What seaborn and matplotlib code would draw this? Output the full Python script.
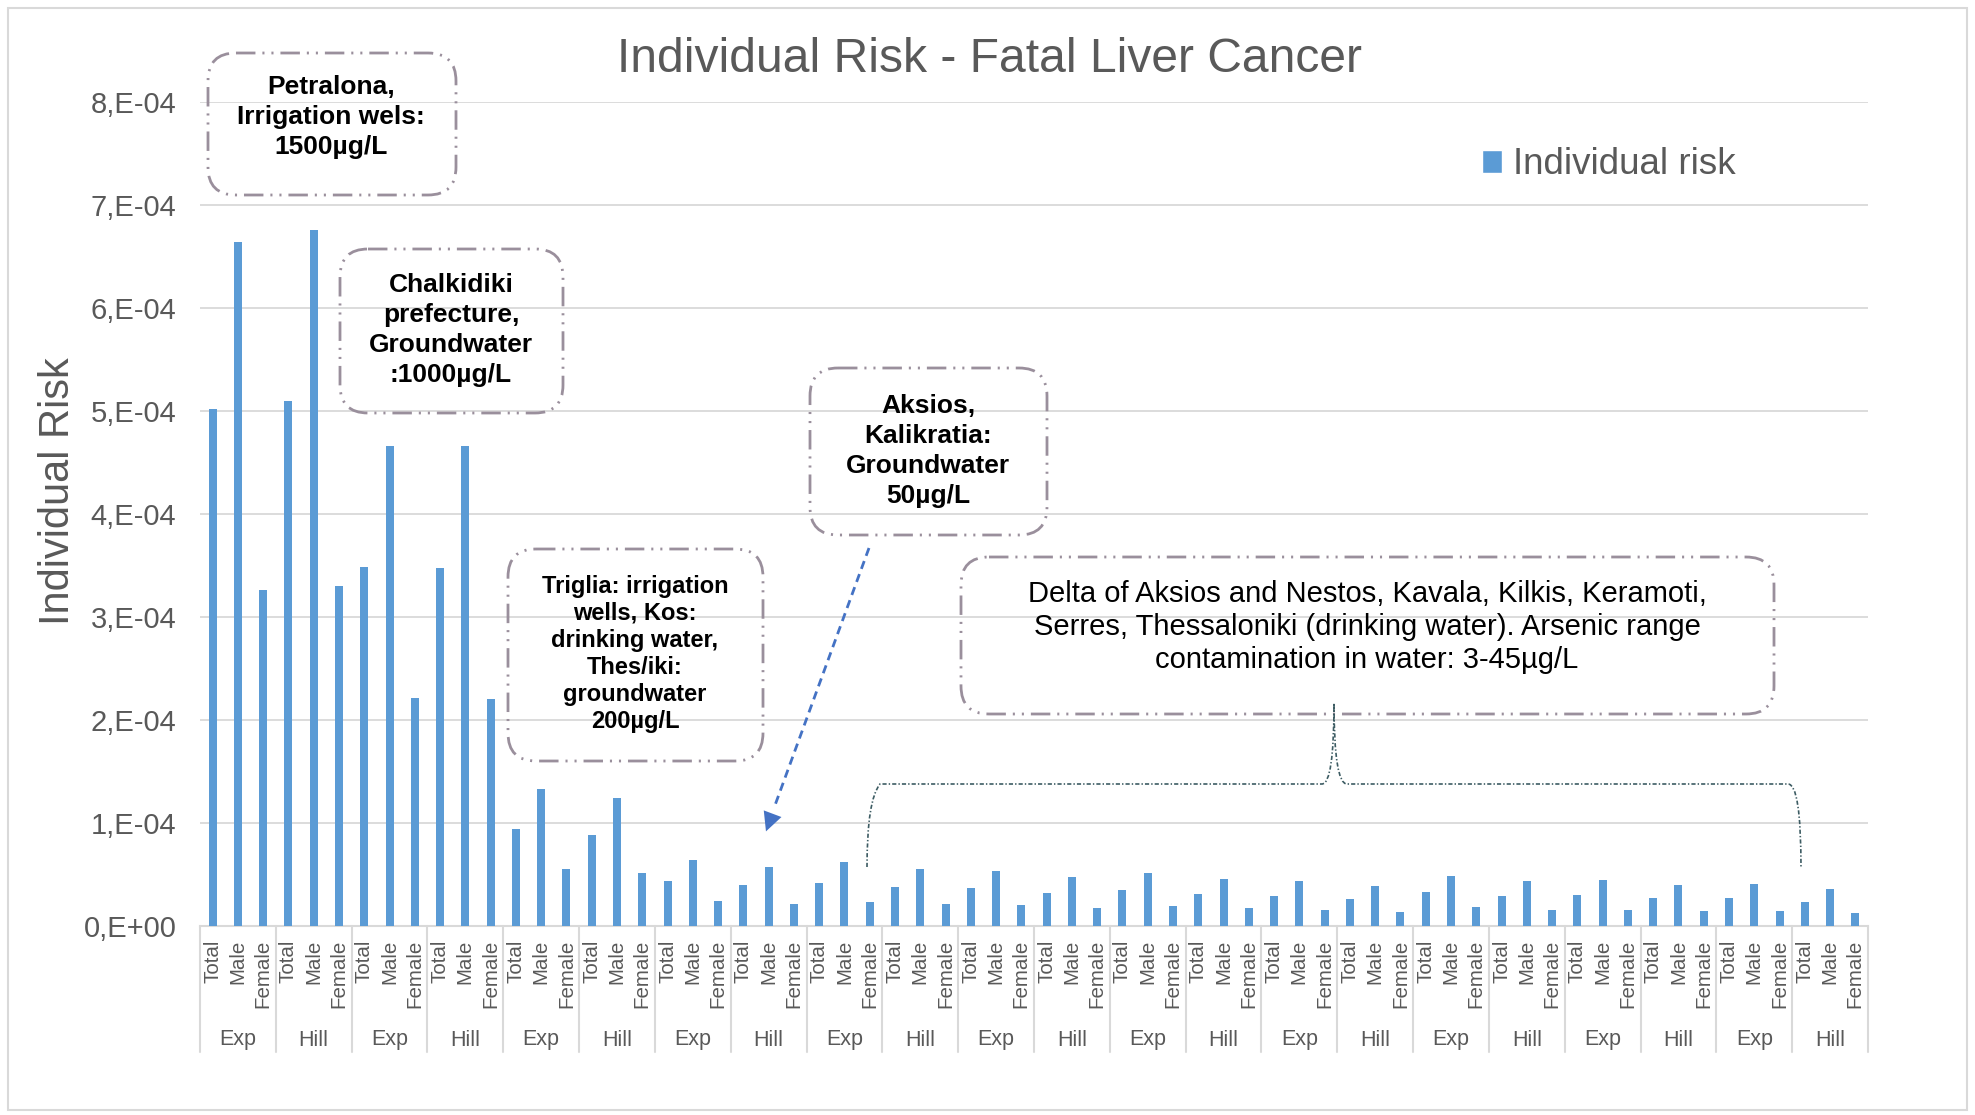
import numpy as np
import pandas as pd
import matplotlib
matplotlib.use("Agg")
import matplotlib.pyplot as plt
import seaborn as sns
from matplotlib.patches import FancyBboxPatch, Rectangle, Patch, FancyArrowPatch
from matplotlib.path import Path
from matplotlib.patches import PathPatch
from matplotlib.transforms import Affine2D, blended_transform_factory

# -------------------------------
# Data
# -------------------------------
models = ["Exp", "Hill"] * 11
sexes = ["Total", "Male", "Female"]
total_risk = [5.02, 5.10, 3.48, 3.47, 0.945, 0.88, 0.44, 0.40, 0.42, 0.38, 0.37,
              0.325, 0.35, 0.31, 0.29, 0.26, 0.33, 0.29, 0.30, 0.27, 0.27, 0.237]
male_risk = [6.64, 6.75, 4.66, 4.66, 1.33, 1.24, 0.64, 0.575, 0.62, 0.555, 0.535,
             0.48, 0.51, 0.455, 0.435, 0.385, 0.487, 0.435, 0.45, 0.40, 0.405, 0.357]
female_risk = [3.26, 3.30, 2.21, 2.20, 0.55, 0.51, 0.24, 0.21, 0.23, 0.21, 0.20,
               0.175, 0.19, 0.17, 0.155, 0.135, 0.18, 0.155, 0.16, 0.143, 0.143, 0.123]
y_ticks = [0, 1e-4, 2e-4, 3e-4, 4e-4, 5e-4, 6e-4, 7e-4, 8e-4]

notes = [
    "Petralona,\nIrrigation wels:\n1500µg/L",
    "Chalkidiki\nprefecture,\nGroundwater\n:1000µg/L",
    "Aksios,\nKalikratia:\nGroundwater\n50µg/L",
    "Triglia: irrigation\nwells, Kos:\ndrinking water,\nThes/iki:\ngroundwater\n200µg/L",
    "Delta of Aksios and Nestos, Kavala, Kilkis, Keramoti,\n"
    "Serres, Thessaloniki (drinking water). Arsenic range\n"
    "contamination in water: 3-45µg/L",
]

rows = []
for g, m in enumerate(models):
    for s, vals in zip(sexes, [total_risk, male_risk, female_risk]):
        rows.append({"bar": f"{g}-{s}", "group": m, "sex": s, "risk": vals[g] * 1e-4})
df = pd.DataFrame(rows)

# -------------------------------
# Style
# -------------------------------
W, H = 1975, 1115
sns.set_theme(style="white")
plt.rcParams["font.family"] = ["Liberation Sans", "DejaVu Sans"]
plt.rcParams["lines.scale_dashes"] = False
GRAY_TXT = "#595959"
GRID = "#d9d9d9"
BLUE = "#5B9BD5"
BOX_EDGE = "#9a8f9c"

fig = plt.figure(figsize=(W / 100, H / 100), dpi=100)
ax = fig.add_axes([200 / W, 1 - 926 / H, 1668 / W, 824.3 / H])
pix = Affine2D().scale(1 / W, -1 / H).translate(0, 1) + fig.transFigure

sns.barplot(data=df, x="bar", y="risk", order=df["bar"], color=BLUE,
            width=0.32, saturation=1, linewidth=0, ax=ax, zorder=3)

ax.set_xlim(-0.5, len(df) - 0.5)
ax.set_ylim(0, 8e-4)
ax.set_yticks(y_ticks)
ax.set_yticklabels(["0,E+00"] + [f"{int(round(v * 1e4))},E-04" for v in y_ticks[1:]])
ax.yaxis.grid(True, color=GRID, lw=1.3, zorder=0)
ax.set_axisbelow(True)
ax.tick_params(axis="y", length=0, pad=17, labelsize=21, labelcolor=GRAY_TXT)
ax.set_xticks(range(len(df)))
ax.set_xticklabels(df["sex"], rotation=90, va="top", ha="center")
ax.tick_params(axis="x", length=0, pad=10, labelsize=14.8, labelcolor=GRAY_TXT)
ax.set_xlabel("")
ax.set_ylabel("")
for side in ["top", "right", "left"]:
    ax.spines[side].set_visible(False)
ax.spines["bottom"].set_color(GRID)
ax.spines["bottom"].set_linewidth(1.5)

# multi-level category separators and group labels
sep = blended_transform_factory(ax.transData, pix)
for k in range(len(models) + 1):
    ax.plot([3 * k - 0.5] * 2, [926, 1052], transform=sep, color=GRID, lw=1.5, clip_on=False)
for k, m in enumerate(models):
    ax.text(3 * k + 1, 1040, m, transform=sep, ha="center", va="center",
            fontsize=15.5, color=GRAY_TXT)

# title, axis label, legend
fig.text(989 / W, 1 - 60 / H, "Individual Risk - Fatal Liver Cancer", ha="center", va="center",
         fontsize=34.6, color=GRAY_TXT)
fig.text(58 / W, 1 - 491 / H, "Individual Risk", rotation=90, ha="center", va="center",
         fontsize=30, color=GRAY_TXT)
ax.legend([Patch(facecolor=BLUE)], ["Individual risk"], loc="center left",
          bbox_to_anchor=(1482 / W, 1 - 165 / H), bbox_transform=fig.transFigure,
          frameon=False, fontsize=26.5, labelcolor=GRAY_TXT, handlelength=0.55,
          handleheight=0.55, handletextpad=0.3, borderpad=0, borderaxespad=0)

# figure border
fig.patches.append(Rectangle((8, 8), 1959, 1102, transform=pix, fill=False,
                             edgecolor=GRID, lw=1.5))

# -------------------------------
# Annotation boxes
# -------------------------------
dashdot2 = (0, (14, 5, 1.5, 5, 1.5, 5))
boxes = [
    ((208, 53, 456, 195), (331, 117), 19, "bold", 1.3),
    ((340, 249, 563, 413), (451, 330), 19, "bold", 1.3),
    ((810, 368, 1047, 535), (928, 451), 19, "bold", 1.3),
    ((508, 549, 763, 761), (635, 654), 17, "bold", 1.23),
    ((961, 557, 1774, 714), (1367, 627), 21, "normal", 1.24),
]
for (x0, y0, x1, y1), (tx, ty), fs, fw, ls in boxes:
    fig.patches.append(FancyBboxPatch((x0, y0), x1 - x0, y1 - y0,
                                      boxstyle="round,pad=0,rounding_size=28",
                                      transform=pix, fill=False, edgecolor=BOX_EDGE,
                                      lw=2.0, linestyle=dashdot2))
for b, note in zip(boxes, notes):
    (tx, ty), fs, fw, ls = b[1], b[2], b[3], b[4]
    fig.text(tx / W, 1 - ty / H, note, ha="center", va="center", fontsize=fs,
             fontweight=fw, color="black", linespacing=ls)

# dashed arrow to the Aksios bars
ARROW = "#4472C4"
ax.plot([869, 774], [548, 808], transform=pix, color=ARROW, lw=2.0,
        linestyle=(0, (6, 4)), clip_on=False)
fig.patches.append(FancyArrowPatch((777, 802), (765, 834), transform=pix,
                                   arrowstyle="-|>", mutation_scale=34, color=ARROW, lw=0))

# curly brace over the low-contamination sites
verts = [(867, 867), (867, 800), (880, 784), (880, 784), (1322, 784),
         (1334, 784), (1334, 703), (1334, 784), (1347, 784),
         (1788, 784), (1801, 784), (1801, 867)]
codes = [Path.MOVETO, Path.CURVE3, Path.CURVE3, Path.LINETO, Path.LINETO,
         Path.CURVE3, Path.CURVE3, Path.CURVE3, Path.CURVE3,
         Path.LINETO, Path.CURVE3, Path.CURVE3]
fig.patches.append(PathPatch(Path(verts, codes), transform=pix, fill=False,
                             edgecolor="#3d5c63", lw=1.2, linestyle=(0, (3, 1.5, 1, 1.5))))

fig.savefig("out.png", dpi=100, facecolor="white")
